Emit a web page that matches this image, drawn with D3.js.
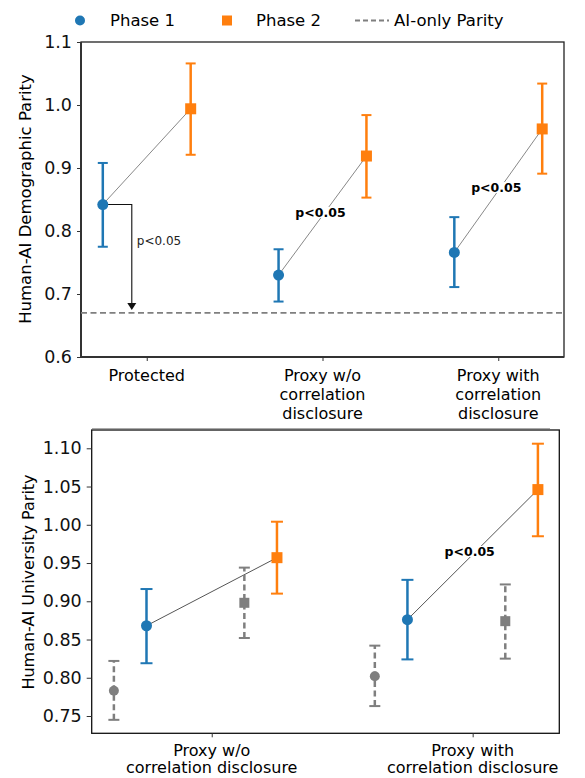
<!DOCTYPE html>
<html>
<head>
<meta charset="utf-8">
<script src="https://cdn.jsdelivr.net/npm/d3@7"></script>
<style>
  body { margin: 0; background: #fff; }
  svg { font-family: "DejaVu Sans", sans-serif; }
</style>
</head>
<body>
<svg id="chart" width="585" height="778"></svg>
<script>
// top panel: demographic parity
let topCategories = ["Protected", "Proxy w/o|correlation|disclosure", "Proxy with|correlation|disclosure"];
let topPhase1 = [0.842, 0.730, 0.766];
let topPhase1Lo = [0.775, 0.688, 0.711];
let topPhase1Hi = [0.908, 0.771, 0.822];
let topPhase2 = [0.994, 0.919, 0.962];
let topPhase2Lo = [0.921, 0.853, 0.891];
let topPhase2Hi = [1.066, 0.984, 1.034];
let aiOnlyParity = 0.670;
let topTicks = [0.6, 0.7, 0.8, 0.9, 1.0, 1.1];

// bottom panel: university parity
let botCategories = ["Proxy w/o|correlation disclosure", "Proxy with|correlation disclosure"];
let botPhase1 = [0.868, 0.876];
let botPhase1Lo = [0.819, 0.824];
let botPhase1Hi = [0.916, 0.928];
let botPhase2 = [0.957, 1.046];
let botPhase2Lo = [0.910, 0.985];
let botPhase2Hi = [1.004, 1.106];
let botCtrl1 = [0.783, 0.802];
let botCtrl1Lo = [0.745, 0.763];
let botCtrl1Hi = [0.822, 0.842];
let botCtrl2 = [0.898, 0.874];
let botCtrl2Lo = [0.852, 0.825];
let botCtrl2Hi = [0.944, 0.922];
let botTicks = [0.75, 0.80, 0.85, 0.90, 0.95, 1.00, 1.05, 1.10];

let blue = "#1f77b4", orange = "#ff7f0e", gray = "#7f7f7f";
let svg = d3.select("#chart");

// legend
let legend = svg.append("g");
legend.append("circle").attr("cx", 80).attr("cy", 20.5).attr("r", 5).attr("fill", blue);
legend.append("text").attr("x", 110).attr("y", 20.5).attr("dy", "0.35em").attr("font-size", 16.5).text("Phase 1");
legend.append("rect").attr("x", 222).attr("y", 15.5).attr("width", 10).attr("height", 10).attr("fill", orange);
legend.append("text").attr("x", 256).attr("y", 20.5).attr("dy", "0.35em").attr("font-size", 16.5).text("Phase 2");
legend.append("line").attr("x1", 355).attr("x2", 389).attr("y1", 20.5).attr("y2", 20.5)
  .attr("stroke", gray).attr("stroke-width", 1.8).attr("stroke-dasharray", "5,3");
legend.append("text").attr("x", 394).attr("y", 20.5).attr("dy", "0.35em").attr("font-size", 16.5).text("AI-only Parity");

function errBar(g, x, lo, hi, color, cap, dashed) {
  g.append("line").attr("x1", x).attr("x2", x).attr("y1", lo).attr("y2", hi)
    .attr("stroke", color).attr("stroke-width", 2.5)
    .attr("stroke-dasharray", dashed ? "6,3.5" : null);
  [lo, hi].forEach(y => {
    g.append("line").attr("x1", x - cap).attr("x2", x + cap).attr("y1", y).attr("y2", y)
      .attr("stroke", color).attr("stroke-width", 2);
  });
}

function pLabel(g, x, y, txt, bold) {
  let t = g.append("text").attr("x", x).attr("y", y).attr("text-anchor", "middle")
    .attr("dy", "0.35em").attr("font-size", 12.5).attr("font-weight", bold ? "bold" : "normal")
    .text(txt);
  let b = t.node().getBBox();
  g.insert("rect", () => t.node()).attr("x", b.x - 1).attr("y", b.y + 2)
    .attr("width", b.width + 2).attr("height", b.height - 4).attr("fill", "#fff");
}

function xLabels(g, x, cats, y0, lh) {
  cats.forEach((c, i) => {
    let t = g.append("text").attr("text-anchor", "middle").attr("font-size", 16);
    c.split("|").forEach((line, j) => {
      t.append("tspan").attr("x", x(i)).attr("y", y0 + j * lh).attr("dy", "0.35em").text(line);
    });
  });
}

// ---------- top panel ----------
let xT = d3.scaleLinear().domain([-0.374, 2.374]).range([81, 564]);
let yT = d3.scaleLinear().domain([0.6, 1.1]).range([357, 42]);
let gT = svg.append("g");

gT.append("rect").attr("x", 81).attr("y", 42).attr("width", 483).attr("height", 315)
  .attr("fill", "none").attr("stroke", "#222").attr("stroke-width", 1.3);
gT.append("line").attr("x1", 81).attr("x2", 81).attr("y1", 42).attr("y2", 357).attr("stroke", "#333").attr("stroke-width", 2);
gT.append("line").attr("x1", 81).attr("x2", 564).attr("y1", 357).attr("y2", 357).attr("stroke", "#333").attr("stroke-width", 2);

let axT = gT.append("g").attr("transform", "translate(81,0)")
  .call(d3.axisLeft(yT).tickValues(topTicks).tickFormat(d3.format(".1f")).tickSize(4).tickPadding(5));
axT.select(".domain").remove();
axT.selectAll("text").attr("font-size", 17.5).attr("fill", "#111").attr("font-family", "DejaVu Sans");
axT.selectAll("line").attr("stroke", "#333");

let axTx = gT.append("g").attr("transform", "translate(0,357)")
  .call(d3.axisBottom(xT).tickValues([0, 1, 2]).tickFormat("").tickSize(4));
axTx.select(".domain").remove();
axTx.selectAll("line").attr("stroke", "#333");
xLabels(gT, xT, topCategories, 375, 19);

gT.append("line").attr("x1", 92).attr("x2", 550).attr("y1", 428.5).attr("y2", 428.5)
  .attr("stroke", "#aaa").attr("stroke-width", 1);

gT.append("text").attr("transform", "translate(25,199) rotate(-90)").attr("text-anchor", "middle")
  .attr("dy", "0.35em").attr("font-size", 16.5).text("Human-AI Demographic Parity");

// AI-only parity line
gT.append("line").attr("x1", 81).attr("x2", 564).attr("y1", yT(aiOnlyParity)).attr("y2", yT(aiOnlyParity))
  .attr("stroke", gray).attr("stroke-width", 1.8).attr("stroke-dasharray", "6,3.5");

let off = 0.25;
topCategories.forEach((c, i) => {
  gT.append("line").attr("x1", xT(i - off)).attr("y1", yT(topPhase1[i]))
    .attr("x2", xT(i + off)).attr("y2", yT(topPhase2[i])).attr("stroke", "#888").attr("stroke-width", 1);
});

// arrow from Protected phase 1 to AI-only line
let ax0 = xT(-off), ay0 = yT(topPhase1[0]), ax1 = xT(-off) + 29;
gT.append("path").attr("d", `M${ax0},${ay0}H${ax1}V${yT(aiOnlyParity) - 8}`)
  .attr("fill", "none").attr("stroke", "#111").attr("stroke-width", 1.1);
gT.append("path").attr("d", `M${ax1 - 4.5},${yT(aiOnlyParity) - 10}L${ax1 + 4.5},${yT(aiOnlyParity) - 10}L${ax1},${yT(aiOnlyParity) - 3}Z`)
  .attr("fill", "#111");
gT.append("text").attr("x", ax1 + 5).attr("y", yT(0.784)).attr("dy", "0.35em")
  .attr("font-size", 12).attr("fill", "#222").text("p<0.05");

topCategories.forEach((c, i) => {
  errBar(gT, xT(i - off), yT(topPhase1Lo[i]), yT(topPhase1Hi[i]), blue, 5, false);
  errBar(gT, xT(i + off), yT(topPhase2Lo[i]), yT(topPhase2Hi[i]), orange, 5, false);
  gT.append("circle").attr("cx", xT(i - off)).attr("cy", yT(topPhase1[i])).attr("r", 5.5).attr("fill", blue);
  gT.append("rect").attr("x", xT(i + off) - 5.5).attr("y", yT(topPhase2[i]) - 5.5)
    .attr("width", 11).attr("height", 11).attr("fill", orange);
  if (i > 0) {
    pLabel(gT, xT(i) - 2, (yT(topPhase1[i]) + yT(topPhase2[i])) / 2 - 3, "p<0.05", true);
  }
});

// ---------- bottom panel ----------
let xB = d3.scaleLinear().domain([-0.46, 1.332]).range([91.7, 559.3]);
let yB = d3.scaleLinear().domain([0.7274, 1.1239]).range([733.3, 430]);
let gB = svg.append("g");

gB.append("rect").attr("x", 91.7).attr("y", 430).attr("width", 467.6).attr("height", 303.3)
  .attr("fill", "none").attr("stroke", "#111").attr("stroke-width", 1.3);

let axB = gB.append("g").attr("transform", "translate(91.7,0)")
  .call(d3.axisLeft(yB).tickValues(botTicks).tickFormat(d3.format(".2f")).tickSize(5).tickPadding(5));
axB.select(".domain").remove();
axB.selectAll("text").attr("font-size", 17.5).attr("fill", "#111").attr("font-family", "DejaVu Sans");
axB.selectAll("line").attr("stroke", "#333");

let axBx = gB.append("g").attr("transform", "translate(0,733.3)")
  .call(d3.axisBottom(xB).tickValues([0, 1]).tickFormat("").tickSize(4));
axBx.select(".domain").remove();
axBx.selectAll("line").attr("stroke", "#333");
xLabels(gB, xB, botCategories, 750, 17.5);

gB.append("text").attr("transform", "translate(28,582) rotate(-90)").attr("text-anchor", "middle")
  .attr("dy", "0.35em").attr("font-size", 16).text("Human-AI University Parity");

botCategories.forEach((c, i) => {
  gB.append("line").attr("x1", xB(i - 0.25)).attr("y1", yB(botPhase1[i]))
    .attr("x2", xB(i + 0.25)).attr("y2", yB(botPhase2[i])).attr("stroke", "#555").attr("stroke-width", 1);
});

botCategories.forEach((c, i) => {
  errBar(gB, xB(i - 0.375), yB(botCtrl1Lo[i]), yB(botCtrl1Hi[i]), gray, 5.5, true);
  errBar(gB, xB(i + 0.125), yB(botCtrl2Lo[i]), yB(botCtrl2Hi[i]), gray, 5.5, true);
  errBar(gB, xB(i - 0.25), yB(botPhase1Lo[i]), yB(botPhase1Hi[i]), blue, 6, false);
  errBar(gB, xB(i + 0.25), yB(botPhase2Lo[i]), yB(botPhase2Hi[i]), orange, 6, false);
  gB.append("circle").attr("cx", xB(i - 0.375)).attr("cy", yB(botCtrl1[i])).attr("r", 5).attr("fill", gray);
  gB.append("rect").attr("x", xB(i + 0.125) - 5).attr("y", yB(botCtrl2[i]) - 5)
    .attr("width", 10).attr("height", 10).attr("fill", gray);
  gB.append("circle").attr("cx", xB(i - 0.25)).attr("cy", yB(botPhase1[i])).attr("r", 5.5).attr("fill", blue);
  gB.append("rect").attr("x", xB(i + 0.25) - 5.5).attr("y", yB(botPhase2[i]) - 5.5)
    .attr("width", 11).attr("height", 11).attr("fill", orange);
  if (i === 1) {
    pLabel(gB, xB(i) - 3, (yB(botPhase1[i]) + yB(botPhase2[i])) / 2 - 3, "p<0.05", true);
  }
});
</script>
</body>
</html>
